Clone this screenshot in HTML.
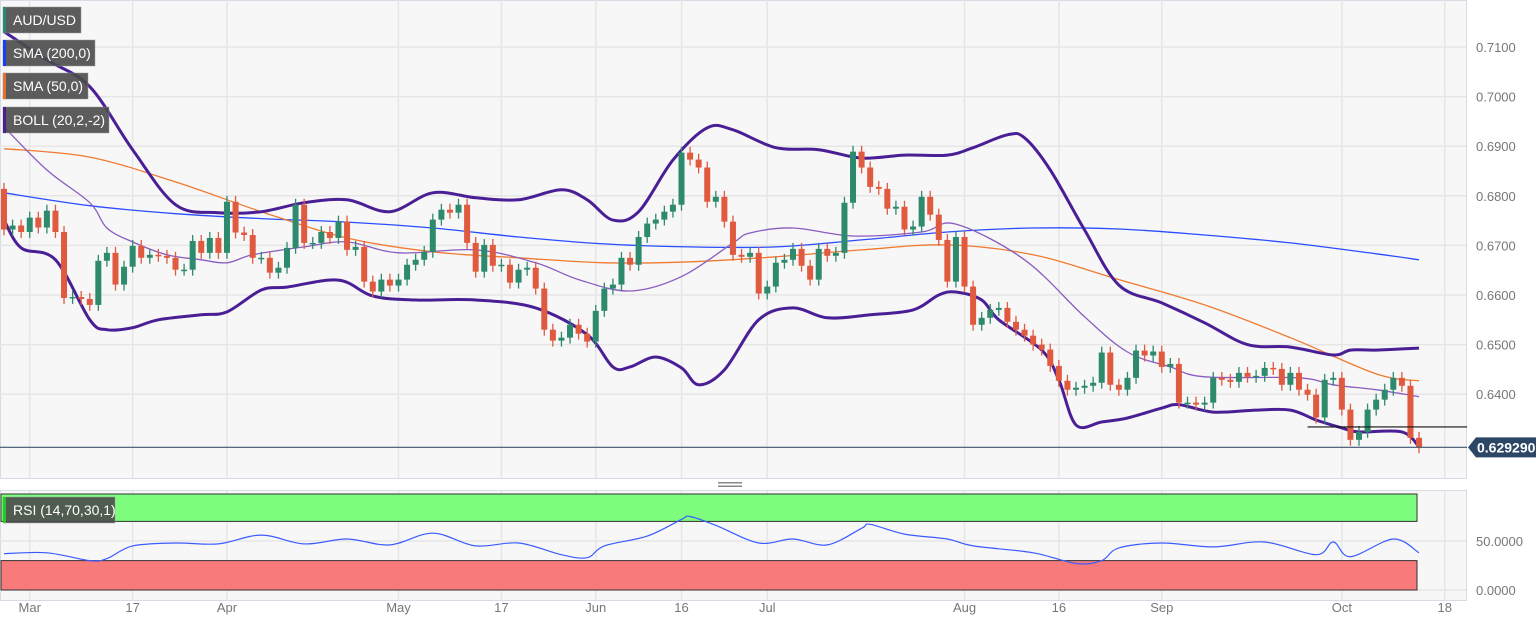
<!DOCTYPE html>
<html><head><meta charset="utf-8"><title>AUD/USD chart</title>
<style>
html,body{margin:0;padding:0;background:#fff;}
body{width:1536px;height:624px;overflow:hidden;font-family:"Liberation Sans",sans-serif;}
svg text{font-family:"Liberation Sans",sans-serif;}
</style></head>
<body>
<svg id="chart" width="1536" height="624" viewBox="0 0 1536 624" xmlns="http://www.w3.org/2000/svg">
  <rect x="0.5" y="0.5" width="1466" height="478" fill="#f7f7f7" stroke="#d6dbe5"/>
  <rect x="0.5" y="490.5" width="1466" height="110" fill="#f7f7f7" stroke="#d6dbe5"/>
  <g id="grid"></g>
  <g id="rsi"></g>
  <g id="inds"></g>
  <g id="candles"></g>
  <g id="axes"></g>
  <g>
    <rect x="718" y="482" width="24" height="1.5" fill="#888"/>
    <rect x="718" y="485.5" width="24" height="1.5" fill="#888"/>
  </g>
  <g id="legend"></g>
</svg>
<script>
// ---- data ----
const firstOpen = 0.6814;
const closes = [0.6732,0.6740,0.6727,0.6756,0.6736,0.6770,0.6727,0.6594,0.6596,0.6592,
0.6580,0.6669,0.6685,0.6621,0.6657,0.6699,0.6675,0.6681,0.6679,0.6675,
0.6651,0.6651,0.6709,0.6685,0.6715,0.6685,0.6788,0.6726,0.6721,0.6675,
0.6675,0.6645,0.6655,0.6695,0.6782,0.6705,0.6705,0.6727,0.6715,0.6748,
0.6691,0.6697,0.6627,0.6607,0.6631,0.6619,0.6631,0.6661,0.6671,0.6687,
0.6752,0.6772,0.6766,0.6782,0.6705,0.6647,0.6701,0.6659,0.6661,0.6625,
0.6651,0.6655,0.6613,0.6530,0.6508,0.6514,0.6540,0.6522,0.6506,0.6568,
0.6613,0.6621,0.6675,0.6661,0.6717,0.6744,0.6752,0.6768,0.6782,0.6887,
0.6873,0.6857,0.6788,0.6798,0.6748,0.6681,0.6677,0.6685,0.6603,0.6617,
0.6665,0.6671,0.6693,0.6659,0.6631,0.6693,0.6679,0.6685,0.6786,0.6889,
0.6857,0.6818,0.6814,0.6774,0.6778,0.6732,0.6738,0.6798,0.6762,0.6711,
0.6627,0.6717,0.6617,0.6540,0.6554,0.6570,0.6574,0.6546,0.6530,0.6518,
0.6500,0.6490,0.6457,0.6427,0.6409,0.6413,0.6417,0.6423,0.6484,0.6419,
0.6409,0.6433,0.6488,0.6478,0.6486,0.6455,0.6461,0.6383,0.6383,0.6379,
0.6383,0.6433,0.6429,0.6425,0.6443,0.6435,0.6437,0.6453,0.6451,0.6419,
0.6443,0.6409,0.6399,0.6353,0.6429,0.6433,0.6369,0.6308,0.6324,0.6369,
0.6389,0.6409,0.6433,0.6417,0.6312,0.6293];
const wick = 0.0012;
const sma200Idx = [0,10,20,30,40,50,60,70,80,90,100,110,120,130,140,150,160,165];
const sma200Val = [0.6806,0.6780,0.6764,0.6754,0.6747,0.6735,0.6717,0.6703,0.6697,0.6697,0.6711,0.6727,0.6735,0.6733,0.6721,0.6705,0.6683,0.6671];
const sma50Idx = [0,10,20,30,40,50,60,70,80,90,100,110,120,130,140,150,160,165];
const sma50Val = [0.6895,0.6878,0.6828,0.6768,0.6715,0.6687,0.6675,0.6665,0.6667,0.6677,0.6691,0.6701,0.6681,0.6631,0.6580,0.6514,0.6441,0.6427];
const bbUpIdx = [0,5,10,15,20,25,30,35,40,45,50,55,60,65,68,71,74,78,82,85,90,95,100,105,110,113,117,119,122,126,130,135,140,145,150,155,157,160,165];
const bbUpVal = [0.7131,0.7074,0.7020,0.6893,0.6782,0.6766,0.6768,0.6786,0.6792,0.6768,0.6806,0.6796,0.6792,0.6812,0.6792,0.6751,0.6768,0.6872,0.6937,0.6933,0.6897,0.6893,0.6876,0.6882,0.6882,0.6897,0.6923,0.6917,0.6852,0.6731,0.6620,0.6584,0.6544,0.6500,0.6495,0.6479,0.6489,0.6489,0.6493];
const bbMidIdx = [0,5,10,12,15,19,23,26,29,35,40,46,55,62,67,73,79,85,87,92,99,107,111,119,126,131,136,140,151,155,160,165];
const bbMidVal = [0.6939,0.6852,0.6786,0.6735,0.6707,0.6681,0.6671,0.6665,0.6681,0.6697,0.6707,0.6685,0.6691,0.6665,0.6631,0.6608,0.6637,0.6705,0.6725,0.6735,0.6719,0.6727,0.6743,0.6671,0.6556,0.6485,0.6455,0.6435,0.6433,0.6419,0.6409,0.6395];
const bbLoIdx = [0,2,6,10,12,15,18,23,26,30,33,39,43,48,55,62,68,71,73,76,79,81,84,88,92,96,101,106,109,111,114,116,121,123,125,128,131,135,137,141,146,150,153,156,158,163,165];
const bbLoVal = [0.6751,0.6695,0.6671,0.6550,0.6530,0.6534,0.6550,0.6560,0.6566,0.6610,0.6616,0.6630,0.6598,0.6590,0.6590,0.6574,0.6520,0.6455,0.6455,0.6475,0.6453,0.6419,0.6449,0.6550,0.6574,0.6554,0.6560,0.6570,0.6600,0.6606,0.6590,0.6550,0.6489,0.6429,0.6338,0.6344,0.6352,0.6372,0.6379,0.6364,0.6368,0.6368,0.6348,0.6332,0.6324,0.6324,0.6294];
const rsiIdx = [0,5,10,12,15,20,25,30,35,40,45,50,55,60,65,68,70,75,79,80,83,88,92,96,100,101,105,110,113,120,125,128,130,135,141,147,153,155,157,162,165];
const rsiVal = [37,38,30,32,45,48,47,56,47,52,46,58,45,48,36,33,45,55,72,75,66,48,52,46,63,67,57,52,45,38,27,30,43,48,44,49,36,49,34,52,38];
const priceTicks = [0.7100,0.7000,0.6900,0.6800,0.6700,0.6600,0.6500,0.6400];
const dateLabels = ["Mar","17","Apr","May","17","Jun","16","Jul","Aug","16","Sep","Oct","18"];
const dateIdx = [3,15,26,46,58,69,79,89,112,123,135,156,168];
const lastPrice = "0.629290";
const lastPriceVal = 0.62929;
const refLevel = 0.6334;
const refStartIdx = 152;

// ---- scales ----
const NS = "http://www.w3.org/2000/svg";
const xI = i => 4 + i * 8.576;
const yP = p => 47 + (0.71 - p) * 4960;
const yR = v => 590 - v * 0.98;
function mk(tag, attrs, parent){ const e = document.createElementNS(NS, tag); for (const k in attrs) e.setAttribute(k, attrs[k]); parent.appendChild(e); return e; }
function smooth(pts){
  let d = "M" + pts[0][0].toFixed(1) + "," + pts[0][1].toFixed(1);
  for (let i = 0; i < pts.length - 1; i++){
    const p0 = pts[Math.max(0,i-1)], p1 = pts[i], p2 = pts[i+1], p3 = pts[Math.min(pts.length-1,i+2)];
    const c1 = [p1[0]+(p2[0]-p0[0])/6, p1[1]+(p2[1]-p0[1])/6];
    const c2 = [p2[0]-(p3[0]-p1[0])/6, p2[1]-(p3[1]-p1[1])/6];
    d += "C"+c1[0].toFixed(1)+","+c1[1].toFixed(1)+" "+c2[0].toFixed(1)+","+c2[1].toFixed(1)+" "+p2[0].toFixed(1)+","+p2[1].toFixed(1);
  }
  return d;
}
const grid = document.getElementById("grid");
const axes = document.getElementById("axes");
const inds = document.getElementById("inds");
const cg = document.getElementById("candles");
const rsi = document.getElementById("rsi");
const legend = document.getElementById("legend");

// grid + price axis
priceTicks.forEach(p => {
  const l = mk("line", {x1:0, x2:1466, y1:yP(p), y2:yP(p), stroke:"#e6e6e6", "stroke-width":1.5}, grid);
  
  
  const t = mk("text", {x:1476, y:yP(p)+5, "font-size":13, fill:"#777"}, axes);
  t.textContent = p.toFixed(4);
  
  
});
[541, 590].forEach(y => {
  const l = mk("line", {x1:0, x2:1466, y1:y, y2:y, stroke:"#e6e6e6", "stroke-width":1.5}, grid);
  
  
});
dateIdx.forEach((di, k) => {
  const x = xI(di);
  const l1 = mk("line", {x1:x, x2:x, y1:0, y2:478, stroke:"#e6e6e6", "stroke-width":1.5}, grid);
  
  
  const l2 = mk("line", {x1:x, x2:x, y1:491, y2:600, stroke:"#e6e6e6", "stroke-width":1.5}, grid);
  
  
  const t = mk("text", {x:x, y:612, "font-size":13, fill:"#777", "text-anchor":"middle"}, axes);
  t.textContent = dateLabels[k];
  
  
});

// indicators
function series(idx, val, color, w, name){
  const pts = idx.map((i,k) => [xI(i), yP(val[k])]);
  const p = mk("path", {d:smooth(pts), fill:"none", stroke:color, "stroke-width":w, "stroke-linejoin":"round"}, inds);
  
  
}
series(sma200Idx, sma200Val, "#2a4dff", 1.3, "sma-200-line");
series(sma50Idx, sma50Val, "#f07a30", 1.3, "sma-50-line");
series(bbMidIdx, bbMidVal, "#8a5cc0", 1.3, "bollinger-middle-line");
series(bbUpIdx, bbUpVal, "#4a1f96", 3, "bollinger-upper-band");
series(bbLoIdx, bbLoVal, "#4a1f96", 3, "bollinger-lower-band");

// candles
closes.forEach((c, i) => {
  const o = i === 0 ? firstOpen : closes[i-1];
  const up = c >= o;
  const col = up ? "#2e8a6c" : "#e05a40";
  const x = xI(i);
  const hi = Math.max(o,c) + wick, lo = Math.min(o,c) - wick;
  const g = mk("g", {}, cg);
  
  
  mk("line", {x1:x, x2:x, y1:yP(hi), y2:yP(lo), stroke:col, "stroke-width":1.3}, g);
  const top = yP(Math.max(o,c)), bot = yP(Math.min(o,c));
  mk("rect", {x:x-3, y:top, width:6, height:Math.max(1.5, bot-top), fill:col}, g);
});

// reference lines
const ref = mk("line", {x1:xI(refStartIdx), x2:1467, y1:yP(refLevel), y2:yP(refLevel), stroke:"#111", "stroke-width":1.2}, axes);


const pl = mk("line", {x1:0, x2:1467, y1:yP(lastPriceVal), y2:yP(lastPriceVal), stroke:"#3c5470", "stroke-width":1.2}, axes);


const lpY = yP(lastPriceVal);
const lpg = mk("g", {}, axes);


mk("path", {d:`M1468,${lpY} L1476,${lpY-10} L1536,${lpY-10} L1536,${lpY+10} L1476,${lpY+10} Z`, fill:"#2c4666"}, lpg);
const lpt = mk("text", {x:1477, y:lpY+5, "font-size":14, "font-weight":"bold", fill:"#fff"}, lpg);
lpt.textContent = lastPrice;

// RSI
const ob = mk("rect", {x:1, y:yR(100)+2, width:1416, height:yR(70)-yR(100)-2, fill:"#7dfc7d", stroke:"#333", "stroke-width":1}, rsi);


const os = mk("rect", {x:1, y:yR(30), width:1416, height:yR(0)-yR(30), fill:"#f87a7a", stroke:"#333", "stroke-width":1}, rsi);


const rp = mk("path", {d:smooth(rsiIdx.map((i,k)=>[xI(i), yR(rsiVal[k])])), fill:"none", stroke:"#3b5bff", "stroke-width":1.2}, rsi);


[[50,"50.0000"],[0,"0.0000"]].forEach(([v,s]) => {
  const t = mk("text", {x:1476, y:yR(v)+5, "font-size":13, fill:"#777"}, axes);
  t.textContent = s;
  
  
});

// legend
const legItems = [["AUD/USD","#2a8a6e",7,78],["SMA (200,0)","#1a3cff",40,92],["SMA (50,0)","#e8702a",73,85],["BOLL (20,2,-2)","#4b1e8c",107,106],["RSI (14,70,30,1)","#22cc22",497,112]];
legItems.forEach(([label,col,y,w]) => {
  const g = mk("g", {}, legend);
  
  
  mk("rect", {x:3, y:y, width:w, height:26, fill:"#4a4a4a", "fill-opacity":0.9, stroke:"#999", "stroke-width":0.5}, g);
  mk("rect", {x:3, y:y, width:3, height:26, fill:col}, g);
  const t = mk("text", {x:13, y:y+18, "font-size":14, fill:"#fff"}, g);
  t.textContent = label;
});
</script>
</body></html>
